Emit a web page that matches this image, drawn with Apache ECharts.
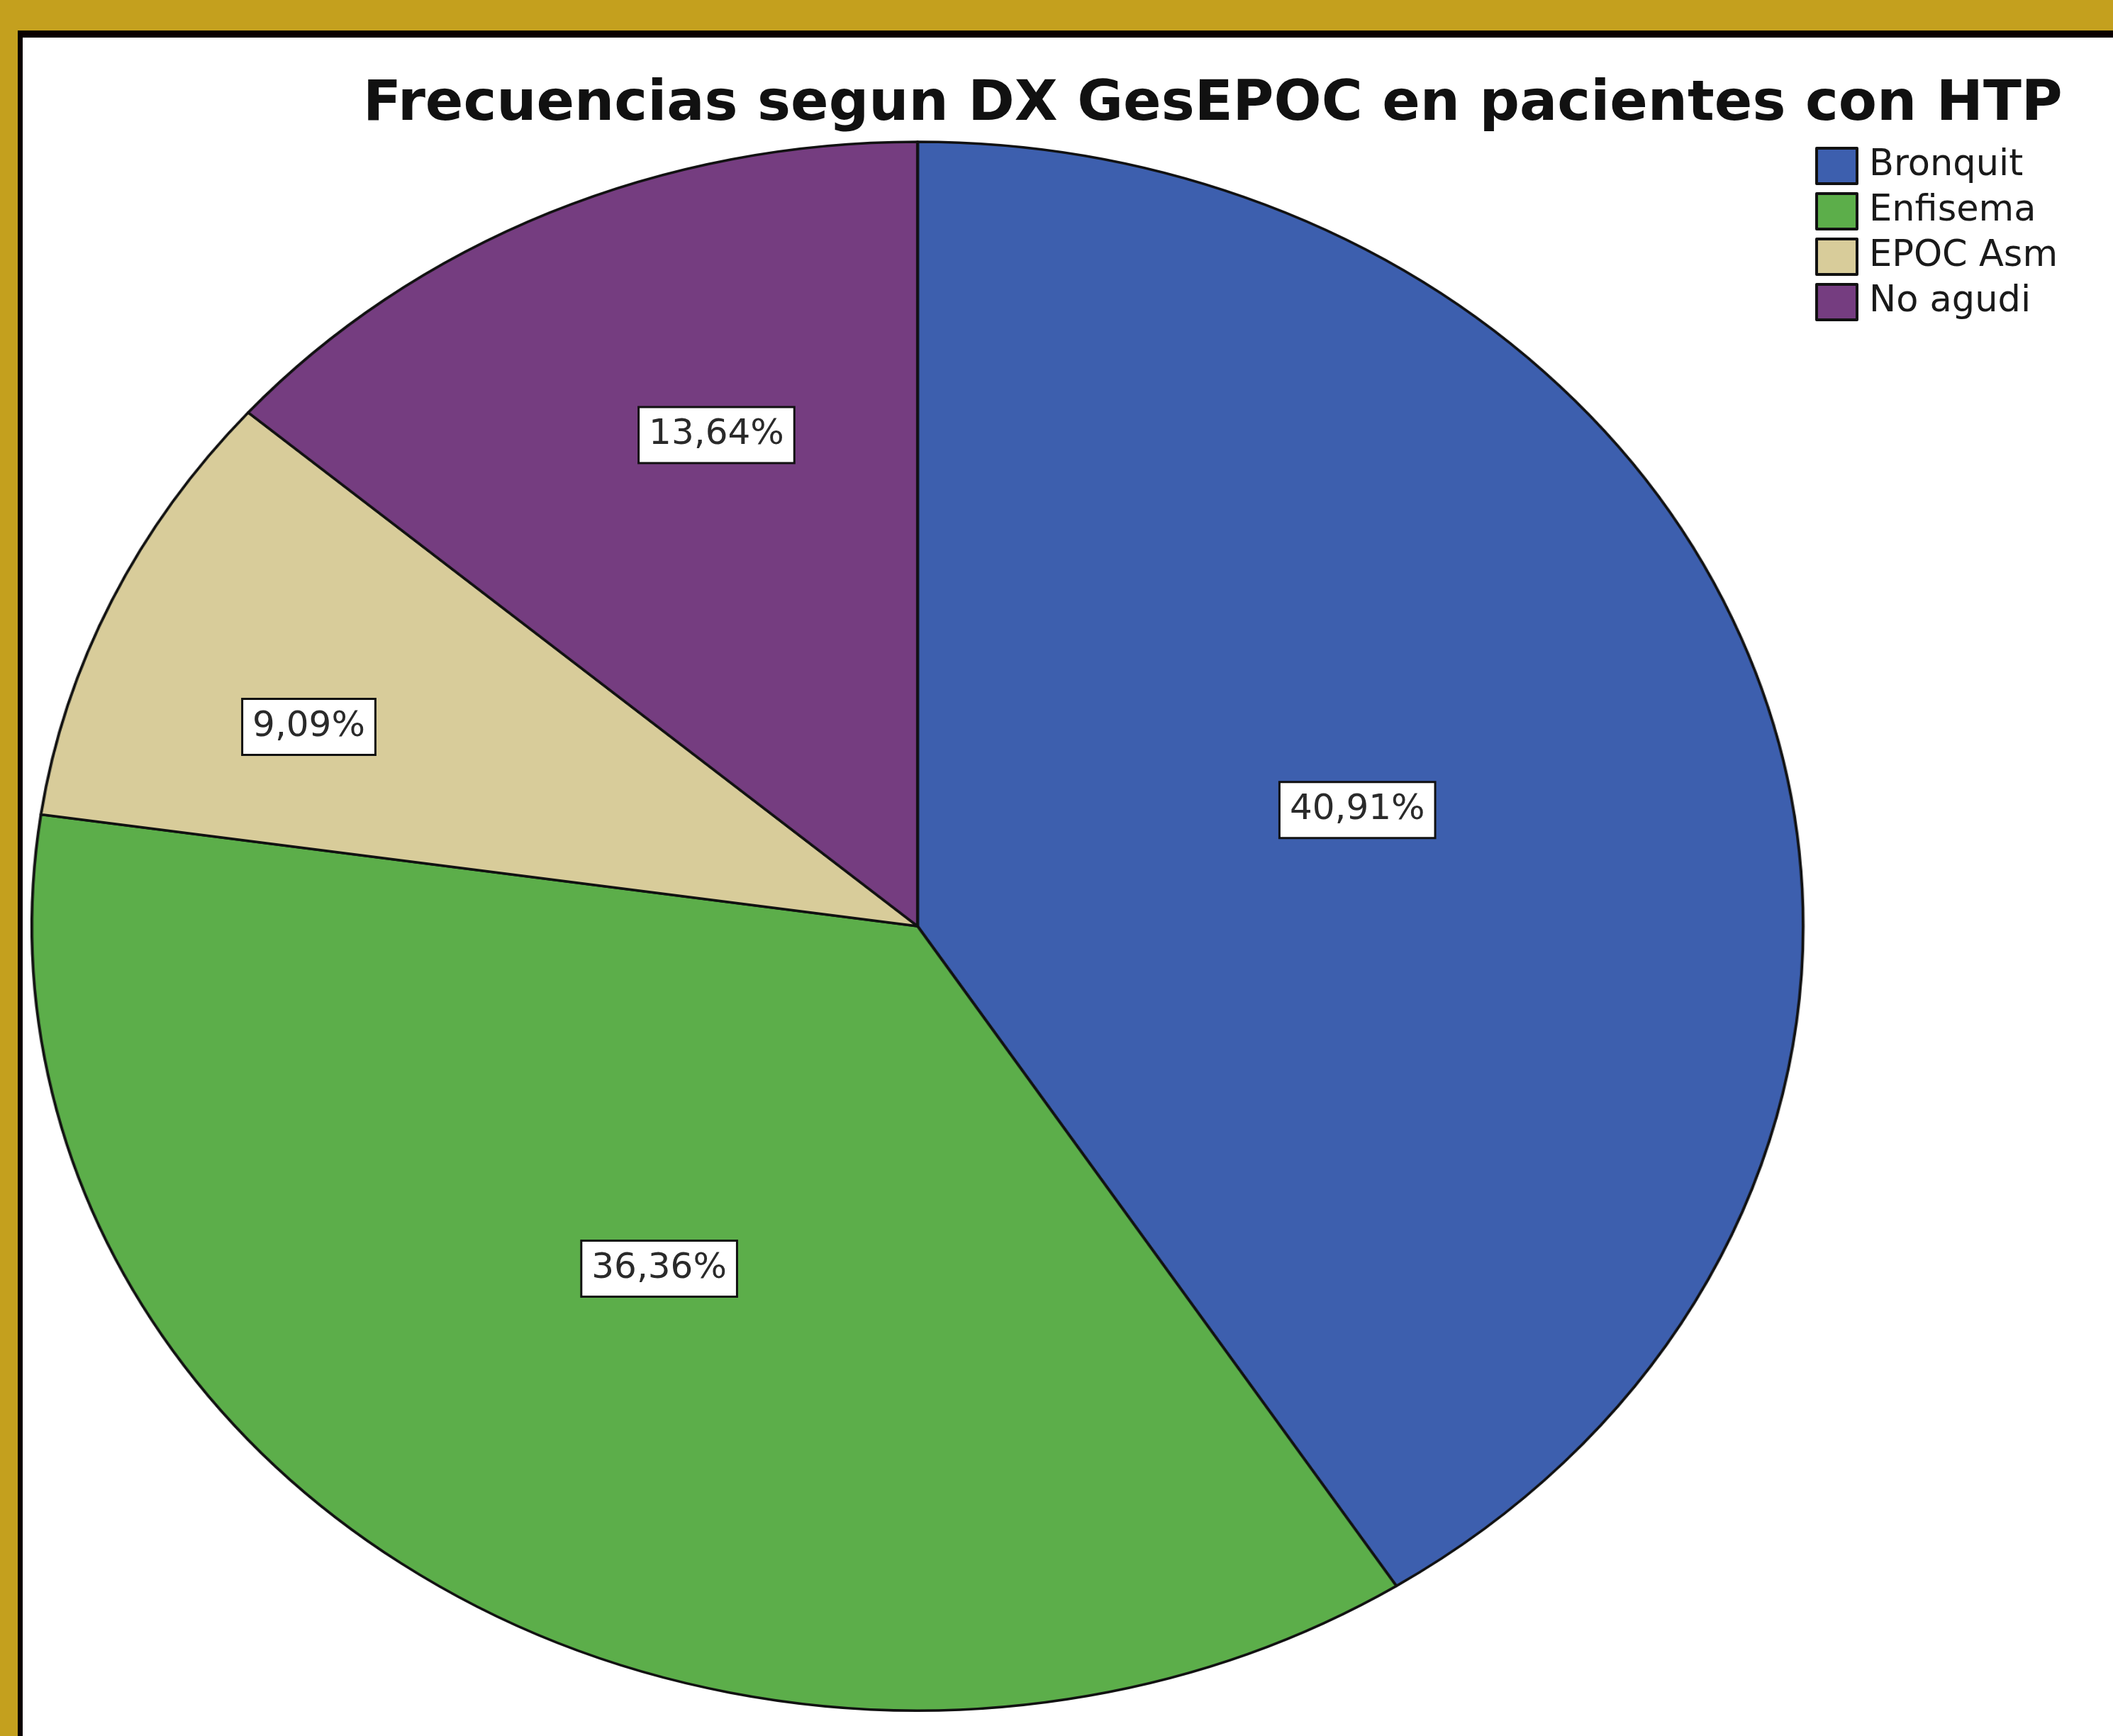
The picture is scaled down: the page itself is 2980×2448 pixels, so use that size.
<!DOCTYPE html>
<html>
<head>
<meta charset="utf-8">
<script src="https://cdn.jsdelivr.net/npm/echarts@6/dist/echarts.min.js"></script>
<style>
  html, body { margin: 0; padding: 0; }
  body { width: 2980px; height: 2448px; background: #c4a01e; position: relative; overflow: hidden; }
  #frame { position: absolute; left: 25px; top: 43px; right: 0; bottom: 0;
           background: #fff; border-top: 10px solid #0a0000; border-left: 7px solid #0a0000; }
  #pie { position: absolute; left: 0; top: 0; height: 2448px; transform-origin: 0 0; }
  #txt { position: absolute; left: 0; top: 0; width: 2980px; height: 2448px; }
</style>
</head>
<body>
<div id="frame"></div>
<div id="pie"></div>
<div id="txt"></div>
<script>
// datos: recuento por diagnostico GesEPOC (n = 22)
var categorias = ['Bronquit', 'Enfisema', 'EPOC Asm', 'No agudi'];
var valores = [9, 8, 2, 3];
var colores = ['#3d5fae', '#5cae4a', '#d8cc9a', '#753d80'];

// la tarta de SPSS sale eliptica: se estira en horizontal
var cx = 1294, cy = 1306, rx = 1249, ry = 1106;
var sx = rx / ry;
// posicion de cada etiqueta: fraccion del radio y giro (grados) respecto al angulo medio
var labelRadius = [0.52, 0.52, 0.735, 0.672];
var labelTurn = [-0.9, 1.4, -3.8, 4.8];

// capa 1: sectores (escalada con css)
var $pie = document.getElementById('pie');
$pie.style.width = (2980 / sx) + 'px';
$pie.style.transform = 'scaleX(' + sx + ')';
var chartPie = echarts.init($pie);
chartPie.setOption({
    animation: false,
    series: [{
        type: 'pie',
        center: [cx / sx, cy],
        radius: ry,
        startAngle: 90,
        clockwise: true,
        silent: true,
        label: { show: false },
        labelLine: { show: false },
        itemStyle: { borderColor: '#111', borderWidth: 3.5 },
        data: categorias.map(function (c, i) {
            return { name: c, value: valores[i], itemStyle: { color: colores[i] } };
        })
    }]
});

// capa 2: titulo, leyenda y etiquetas sin deformar
var chartTxt = echarts.init(document.getElementById('txt'));
chartTxt.setOption({
    animation: false,
    title: {
        text: 'Frecuencias segun DX GesEPOC en pacientes con HTP',
        left: 507,
        top: 104,
        textStyle: { fontFamily: 'DejaVu Sans', fontWeight: 'bold', fontSize: 79, color: '#111' }
    },
    legend: {
        orient: 'vertical',
        left: 2555,
        top: 202,
        icon: 'rect',
        itemWidth: 57,
        itemHeight: 50,
        itemGap: 10,
        textStyle: { fontFamily: 'DejaVu Sans', fontSize: 51, color: '#1a1a1a', padding: [0, 0, 0, 12] },
        data: categorias.map(function (c, i) {
            return { name: c, itemStyle: { color: colores[i], borderColor: '#111', borderWidth: 4 } };
        })
    },
    series: [{
        type: 'pie',
        center: [cx, cy],
        radius: ry,
        startAngle: 90,
        clockwise: true,
        silent: true,
        emphasis: { disabled: true },
        labelLine: { show: false },
        label: {
            show: true,
            position: 'inside',
            formatter: function (p) { return p.percent.toFixed(2).replace('.', ',') + '%'; },
            fontFamily: 'DejaVu Sans',
            fontSize: 50,
            lineHeight: 60,
            color: '#2a2a2a',
            backgroundColor: '#fff',
            borderColor: '#111',
            borderWidth: 3,
            padding: [9, 13, 7, 13]
        },
        // la etiqueta 'inside' sale a medio radio; se recoloca sobre la elipse
        labelLayout: function (params) {
            var r = params.labelRect;
            var lx = r.x + r.width / 2, ly = r.y + r.height / 2;
            var i = params.dataIndex;
            var a = Math.atan2(lx - cx, cy - ly) + labelTurn[i] * Math.PI / 180;
            var f = labelRadius[i];
            var tx = cx + f * rx * Math.sin(a), ty = cy - f * ry * Math.cos(a);
            return { dx: tx - lx, dy: ty - ly + 7 };
        },
        data: categorias.map(function (c, i) {
            return { name: c, value: valores[i], itemStyle: { color: 'rgba(0,0,0,0)', borderWidth: 0 } };
        })
    }]
});
</script>
</body>
</html>
